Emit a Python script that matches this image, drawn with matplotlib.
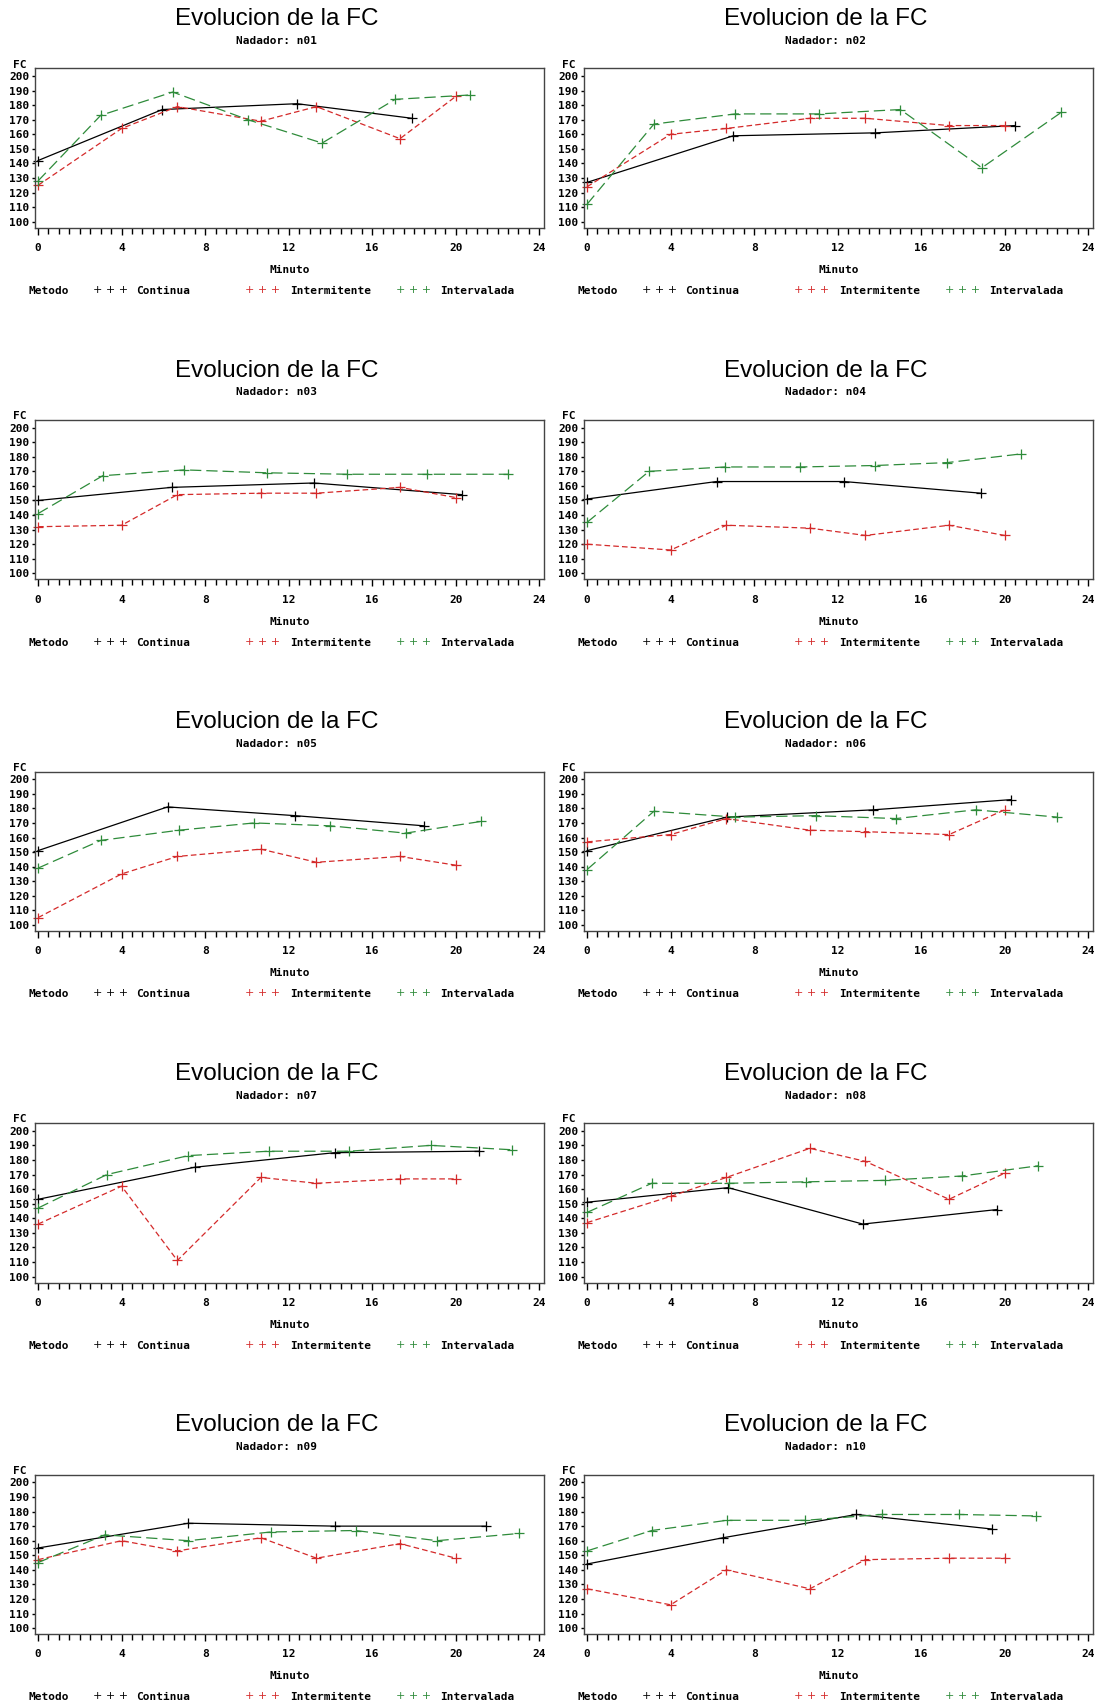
import matplotlib
matplotlib.use("Agg")
import matplotlib.pyplot as plt
from matplotlib.ticker import MultipleLocator

# Evolucion de la FC por nadador y metodo
nadadores = ['n01', 'n02', 'n03', 'n04', 'n05', 'n06', 'n07', 'n08', 'n09', 'n10']

# Continua
minutos_cont = [[0, 5.95, 12.4, 17.9], [0, 7.0, 13.8, 20.5], [0, 6.4, 13.2, 20.3],
                [0, 6.2, 12.3, 18.85], [0, 6.2, 12.3, 18.5], [0, 6.7, 13.7, 20.3],
                [0, 7.5, 14.2, 21.1], [0, 6.75, 13.2, 19.65], [0, 7.2, 14.2, 21.45],
                [0, 6.5, 12.9, 19.4]]
fc_cont = [[142, 177, 181, 171], [127, 159, 161, 166], [150, 159, 162, 154],
           [151, 163, 163, 155], [151, 181, 175, 168], [151, 174, 179, 186],
           [153, 175, 185, 186], [151, 161, 136, 146], [155, 172, 170, 170],
           [144, 162, 178, 168]]

# Intermitente
minutos_inter = [0, 4, 6.67, 10.67, 13.33, 17.33, 20]
fc_inter = [[125, 164, 179, 169, 179, 157, 186], [124, 160, 164, 171, 171, 166, 166],
            [132, 133, 154, 155, 155, 159, 152], [120, 116, 133, 131, 126, 133, 126],
            [105, 135, 147, 152, 143, 147, 141], [157, 162, 173, 165, 164, 162, 179],
            [136, 162, 111, 168, 164, 167, 167], [137, 155, 168, 188, 179, 153, 171],
            [147, 160, 153, 162, 148, 158, 148], [127, 116, 140, 127, 147, 148, 148]]

# Intervalada
minutos_interv = [[0, 3.0, 6.45, 10.05, 13.6, 17.1, 20.7], [0, 3.2, 7.1, 11.1, 15.0, 18.9, 22.7],
                  [0, 3.1, 7.0, 10.95, 14.8, 18.6, 22.5], [0, 2.97, 6.6, 10.2, 13.8, 17.25, 20.8],
                  [0, 3.0, 6.75, 10.35, 14.0, 17.6, 21.2], [0, 3.2, 7.1, 10.95, 14.8, 18.6, 22.5],
                  [0, 3.3, 7.2, 11.05, 14.9, 18.8, 22.7], [0, 3.1, 6.8, 10.5, 14.25, 17.95, 21.6],
                  [0, 3.2, 7.2, 11.15, 15.2, 19.1, 23.05], [0, 3.1, 6.7, 10.45, 14.1, 17.8, 21.5]]
fc_interv = [[128, 173, 189, 170, 154, 184, 187], [112, 167, 174, 174, 177, 137, 175],
             [141, 167, 171, 169, 168, 168, 168], [135, 170, 173, 173, 174, 176, 182],
             [139, 158, 165, 170, 168, 163, 171], [138, 178, 174, 175, 173, 179, 174],
             [147, 170, 183, 186, 186, 190, 187], [144, 164, 164, 165, 166, 169, 176],
             [145, 164, 160, 166, 167, 160, 165], [153, 167, 174, 174, 178, 178, 177]]

W, H = 1098, 1704
fig = plt.figure(figsize=(W / 100, H / 100), dpi=100)
mono = 'DejaVu Sans Mono'
c_cont, c_inter, c_interv = 'black', '#d42a2a', '#2e8b3a'

for i, nad in enumerate(nadadores):
    r, c = divmod(i, 2)
    x0 = c * 549
    y0 = r * 351.6
    ax = fig.add_axes([(x0 + 34.5) / W, 1 - (y0 + 227.7) / H, 509 / W, 159.4 / H])
    ax.plot(minutos_cont[i], fc_cont[i], color=c_cont, lw=0.9, marker='+', ms=7, mew=0.9, clip_on=False)
    ax.plot(minutos_inter, fc_inter[i], color=c_inter, lw=0.9, ls=(0, (4.5, 2.5)), marker='+', ms=7, mew=0.9, clip_on=False)
    ax.plot(minutos_interv[i], fc_interv[i], color=c_interv, lw=0.9, ls=(0, (9, 4)), marker='+', ms=7, mew=0.9, clip_on=False)

    ax.set_xlim(-0.17, 24.2)
    ax.set_ylim(95.9, 205.3)
    ax.set_xticks(range(0, 25, 4))
    ax.xaxis.set_minor_locator(MultipleLocator(0.5))
    ax.set_yticks(range(100, 201, 10))
    ax.tick_params(axis='x', which='major', direction='out', length=5, width=1, pad=6, labelsize=8)
    ax.tick_params(axis='x', which='minor', direction='out', length=4, width=1)
    ax.tick_params(axis='y', which='major', direction='out', length=2.5, width=1, pad=1, labelsize=8)
    for lab in ax.get_xticklabels() + ax.get_yticklabels():
        lab.set_fontfamily(mono)
        lab.set_fontweight('bold')
    for sp in ax.spines.values():
        sp.set_color('#444444')
        sp.set_linewidth(1)

    def fx(px):
        return (x0 + px) / W

    def fy(py):
        return 1 - (y0 + py) / H

    fig.text(fx(277), fy(19), 'Evolucion de la FC', ha='center', va='center',
             fontsize=17.5, family='Liberation Sans')
    fig.text(fx(276.5), fy(40.7), 'Nadador: ' + nad, ha='center', va='center',
             fontsize=8, family=mono, fontweight='bold')
    fig.text(fx(20), fy(64.5), 'FC', ha='center', va='center',
             fontsize=8, family=mono, fontweight='bold')
    fig.text(fx(290), fy(270), 'Minuto', ha='center', va='center',
             fontsize=8, family=mono, fontweight='bold')
    fig.text(fx(28.7), fy(291), 'Metodo', ha='left', va='center',
             fontsize=8, family=mono, fontweight='bold')
    for xs, xl, col, txt in [(92.8, 136, c_cont, 'Continua'),
                             (245, 290, c_inter, 'Intermitente'),
                             (395.7, 440.5, c_interv, 'Intervalada')]:
        fig.text(fx(xs), fy(290), '+ + +', ha='left', va='center', fontsize=8, color=col)
        fig.text(fx(xl), fy(291), txt, ha='left', va='center',
                 fontsize=8, family=mono, fontweight='bold')

fig.savefig('out.png', dpi=100)
